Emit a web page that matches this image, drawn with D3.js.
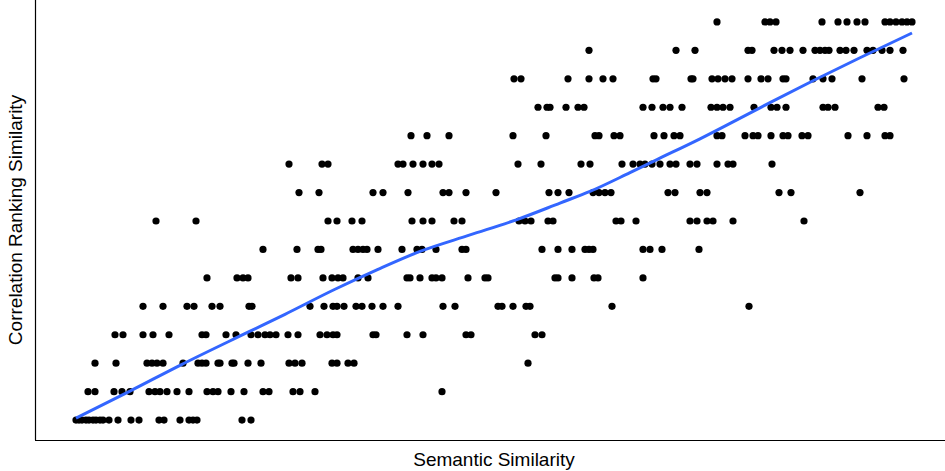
<!DOCTYPE html>
<html>
<head>
<meta charset="utf-8">
<script src="https://cdn.jsdelivr.net/npm/d3@7"></script>
<style>
body { margin: 0; background: #fff; }
.axis-title { font-family: "Liberation Sans", Arial, sans-serif; font-size: 19px; fill: #000; }
</style>
</head>
<body>
<svg id="chart" width="945" height="471"></svg>
<script>
// semantic similarity of each pair, grouped by correlation ranking level (0 = lowest)
var level0 = [0.041,0.044,0.047,0.051,0.054,0.058,0.061,0.065,0.068,0.074,0.083,0.096,0.104,0.124,0.129,0.145,0.154,0.158,0.162,0.207,0.216];
var level1 = [0.053,0.060,0.079,0.087,0.095,0.114,0.120,0.125,0.132,0.142,0.154,0.172,0.178,0.183,0.196,0.209,0.228,0.234,0.258,0.265,0.280,0.407];
var level2 = [0.060,0.081,0.112,0.117,0.122,0.128,0.148,0.163,0.167,0.171,0.183,0.185,0.197,0.199,0.213,0.226,0.254,0.260,0.267,0.297,0.302,0.313,0.319,0.493];
var level3 = [0.080,0.088,0.108,0.118,0.134,0.167,0.171,0.191,0.201,0.216,0.223,0.230,0.235,0.241,0.253,0.263,0.285,0.292,0.298,0.302,0.338,0.341,0.372,0.388,0.431,0.436,0.500,0.507];
var level4 = [0.108,0.128,0.152,0.159,0.177,0.185,0.214,0.217,0.275,0.289,0.298,0.302,0.309,0.321,0.327,0.337,0.348,0.363,0.408,0.420,0.463,0.467,0.478,0.491,0.495,0.577,0.714];
var level5 = [0.172,0.202,0.208,0.213,0.256,0.263,0.288,0.297,0.303,0.308,0.323,0.333,0.372,0.375,0.385,0.397,0.401,0.407,0.433,0.450,0.453,0.520,0.523,0.537,0.559,0.563,0.608];
var level6 = [0.228,0.262,0.283,0.286,0.318,0.323,0.328,0.332,0.343,0.367,0.382,0.387,0.401,0.427,0.431,0.507,0.523,0.537,0.550,0.554,0.558,0.608,0.615,0.627,0.664];
var level7 = [0.121,0.161,0.293,0.302,0.317,0.327,0.377,0.388,0.397,0.419,0.427,0.484,0.490,0.496,0.513,0.518,0.581,0.586,0.601,0.655,0.662,0.672,0.678,0.698,0.769];
var level8 = [0.264,0.284,0.338,0.348,0.373,0.408,0.414,0.431,0.461,0.514,0.523,0.534,0.558,0.564,0.570,0.576,0.633,0.640,0.665,0.672,0.744,0.756,0.825];
var level9 = [0.254,0.287,0.293,0.363,0.368,0.378,0.388,0.397,0.404,0.483,0.506,0.546,0.555,0.587,0.598,0.605,0.610,0.617,0.625,0.635,0.641,0.655,0.662,0.682,0.693,0.698,0.737];
var level10 = [0.376,0.392,0.414,0.478,0.511,0.560,0.564,0.579,0.585,0.619,0.629,0.639,0.645,0.682,0.687,0.710,0.718,0.723,0.736,0.748,0.753,0.767,0.773,0.813,0.832,0.850,0.855];
var level11 = [0.503,0.512,0.515,0.531,0.543,0.549,0.608,0.617,0.628,0.635,0.647,0.676,0.682,0.688,0.695,0.719,0.736,0.742,0.751,0.788,0.793,0.800,0.843,0.849];
var level12 = [0.479,0.486,0.533,0.554,0.568,0.578,0.618,0.621,0.656,0.658,0.677,0.683,0.690,0.697,0.713,0.726,0.733,0.748,0.751,0.778,0.788,0.797,0.827,0.869];
var level13 = [0.554,0.641,0.660,0.713,0.717,0.739,0.747,0.755,0.768,0.780,0.785,0.790,0.794,0.805,0.811,0.819,0.832,0.838,0.847,0.855,0.868];
var level14 = [0.682,0.730,0.735,0.741,0.787,0.803,0.812,0.822,0.830,0.850,0.855,0.861,0.867,0.872,0.877];

// smoothed trend (loess)
var smoothX = [0.041,0.095,0.147,0.213,0.250,0.300,0.343,0.385,0.435,0.482,0.525,0.555,0.595,0.622,0.665,0.725,0.778,0.825,0.877];
var smoothY = [0.07,1.02,1.96,3.09,3.72,4.60,5.30,5.93,6.51,7.05,7.63,8.04,8.70,9.16,9.89,10.98,11.93,12.74,13.61];

var levels = [level0,level1,level2,level3,level4,level5,level6,level7,level8,level9,level10,level11,level12,level13,level14];

var margin = {top: 2, right: 0, bottom: 31, left: 35},
    W = 945, H = 471;

var x = d3.scaleLinear().domain([0, 0.91]).range([margin.left, W - margin.right]);
var y = d3.scaleLinear().domain([-0.7, 14.7]).range([H - margin.bottom, margin.top]);

var svg = d3.select("#chart");

var points = [];
levels.forEach(function(row, i) {
  row.forEach(function(s) { points.push({sem: s, rank: i}); });
});

// points
svg.append("g").selectAll("circle")
  .data(points)
  .enter().append("circle")
  .attr("cx", function(d) { return x(d.sem); })
  .attr("cy", function(d) { return y(d.rank); })
  .attr("r", 3.6)
  .attr("fill", "#000");

// smooth line
var smooth = smoothX.map(function(v, i) { return [v, smoothY[i]]; });
svg.append("path")
  .datum(smooth)
  .attr("fill", "none")
  .attr("stroke", "#3366FF")
  .attr("stroke-width", 3)
  .attr("d", d3.line()
    .x(function(d) { return x(d[0]); })
    .y(function(d) { return y(d[1]); })
    .curve(d3.curveMonotoneX));

// axis lines (no ticks)
svg.append("line")
  .attr("x1", margin.left + 0.5).attr("x2", margin.left + 0.5)
  .attr("y1", 0).attr("y2", H - margin.bottom)
  .attr("stroke", "#000").attr("stroke-width", 1.2);
svg.append("line")
  .attr("x1", margin.left).attr("x2", W)
  .attr("y1", H - margin.bottom + 0.5).attr("y2", H - margin.bottom + 0.5)
  .attr("stroke", "#000").attr("stroke-width", 1.2);

// titles
svg.append("text")
  .attr("class", "axis-title")
  .attr("x", 494).attr("y", 466)
  .attr("text-anchor", "middle")
  .text("Semantic Similarity");

svg.append("text")
  .attr("class", "axis-title")
  .attr("transform", "translate(22,220) rotate(-90)")
  .attr("text-anchor", "middle")
  .text("Correlation Ranking Similarity");
</script>
</body>
</html>
